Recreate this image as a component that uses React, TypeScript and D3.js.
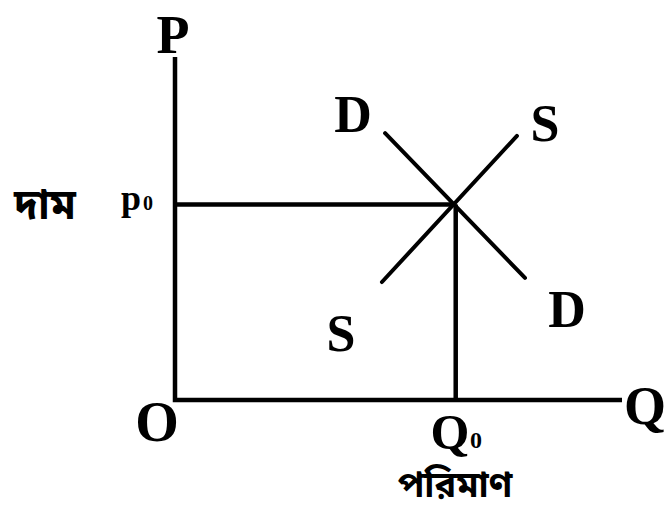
import React from "react";
import * as d3 from "d3";

const W = 669;
const H = 509;

// Axis extents (data units)
const axisMax = 10;
// Equilibrium
const equilibrium = { q: 6.28, p: 5.7 };
// Demand line endpoints (q, p)
const demandPts: [number, number][] = [
  [4.7, 7.78],
  [7.83, 3.56],
];
// Supply line endpoints (q, p)
const supplyPts: [number, number][] = [
  [4.63, 3.44],
  [7.65, 7.7],
];

const FONT = "'Liberation Serif', 'Times New Roman', serif";
const BN_FONT = "'Noto Sans Bengali', 'Noto Serif Bengali', 'Lohit Bengali', 'Liberation Serif', serif";

export default function App() {
  const x = d3.scaleLinear().domain([0, axisMax]).range([175, 622]);
  const y = d3.scaleLinear().domain([0, axisMax]).range([400, 57]);
  const line = d3
    .line<[number, number]>()
    .x((d) => x(d[0]))
    .y((d) => y(d[1]));

  return (
    <svg
      width={W}
      height={H}
      style={{ position: "absolute", left: 0, top: 0, background: "#fff" }}
    >
      <rect width={W} height={H} fill="#fff" />
      {/* axes */}
      <path d={line([[0, axisMax], [0, 0], [axisMax, 0]])!} fill="none" stroke="#000" strokeWidth={4.5} />
      {/* equilibrium guides */}
      <path d={line([[0, equilibrium.p], [equilibrium.q, equilibrium.p]])!} stroke="#000" strokeWidth={4.5} />
      <path d={line([[equilibrium.q, equilibrium.p], [equilibrium.q, 0]])!} stroke="#000" strokeWidth={4.5} />
      {/* demand and supply */}
      <path d={line(demandPts)!} stroke="#000" strokeWidth={4} strokeLinecap="round" />
      <path d={line(supplyPts)!} stroke="#000" strokeWidth={4} strokeLinecap="round" />

      <g fontFamily={FONT} fontWeight="bold" fill="#000" textAnchor="middle">
        <text x={173} y={53} fontSize={54}>P</text>
        <text x={157} y={441} fontSize={56}>O</text>
        <text x={645} y={424} fontSize={54}>Q</text>
        <text x={353} y={132} fontSize={52}>D</text>
        <text x={545} y={141} fontSize={52}>S</text>
        <text x={341} y={351} fontSize={52}>S</text>
        <text x={567} y={327} fontSize={52}>D</text>
        <text x={450} y={449} fontSize={50}>Q</text>
        <text x={476} y={448} fontSize={24}>0</text>
        <text x={131} y={210} fontSize={36}>p</text>
        <text x={148} y={210} fontSize={20}>0</text>
      </g>
      <g fontFamily={BN_FONT} fontWeight="bold" fill="#000" textAnchor="middle">
        <text x={45} y={219} fontSize={42}>দাম</text>
        <text x={455} y={497} fontSize={36}>পরিমাণ</text>
      </g>
    </svg>
  );
}
